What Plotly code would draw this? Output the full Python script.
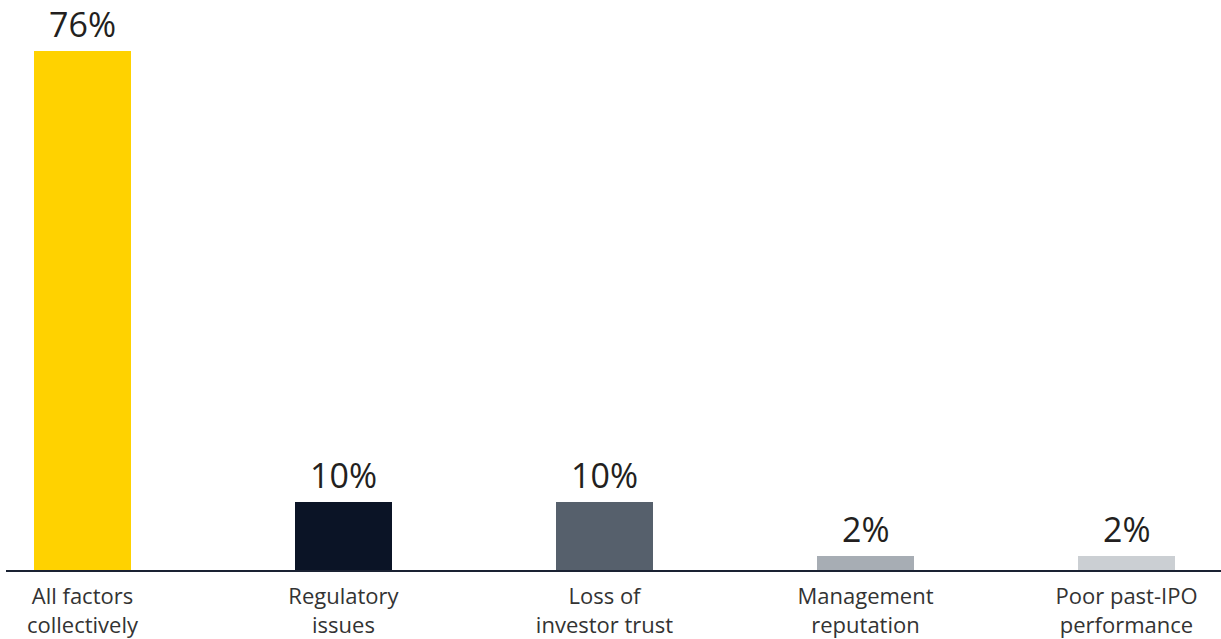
import plotly.graph_objects as go

# Survey share by factor (percent of respondents)
categories = ["All factors<br>collectively", "Regulatory<br>issues", "Loss of<br>investor trust",
              "Management<br>reputation", "Poor past-IPO<br>performance"]
values = [76, 10, 10, 2, 2]
value_labels = ["76%", "10%", "10%", "2%", "2%"]
bar_colors = ["#FFD200", "#0B1426", "#56606C", "#A7ADB4", "#CBCFD3"]

positions = list(range(len(categories)))

fig = go.Figure()
fig.add_trace(go.Bar(
    x=positions,
    y=values,
    marker=dict(color=bar_colors, line=dict(width=0)),
    width=0.372,
    hoverinfo="skip",
))

for xp, v, lab in zip(positions, values, value_labels):
    fig.add_annotation(
        x=xp, y=v, text=lab, showarrow=False,
        xanchor="center", yanchor="bottom", yshift=2,
        font=dict(family="'Open Sans', sans-serif", size=34, color="#231F20"),
    )

fig.update_layout(
    width=1221, height=639,
    margin=dict(l=6, r=0, t=40, b=67),
    paper_bgcolor="white", plot_bgcolor="white",
    showlegend=False,
    bargap=0,
    xaxis=dict(
        range=[-0.293, 4.362],
        tickvals=positions,
        ticktext=categories,
        ticks="",
        showgrid=False,
        zeroline=False,
        showline=True,
        linecolor="#1A2233",
        linewidth=1.5,
        tickfont=dict(family="'Open Sans', sans-serif", size=22, color="#333333"),
        ticklabelstandoff=6,
        fixedrange=True,
    ),
    yaxis=dict(
        range=[0, 77.6],
        visible=False,
        showgrid=False,
        zeroline=False,
        fixedrange=True,
    ),
)

fig.write_html("out.html")
